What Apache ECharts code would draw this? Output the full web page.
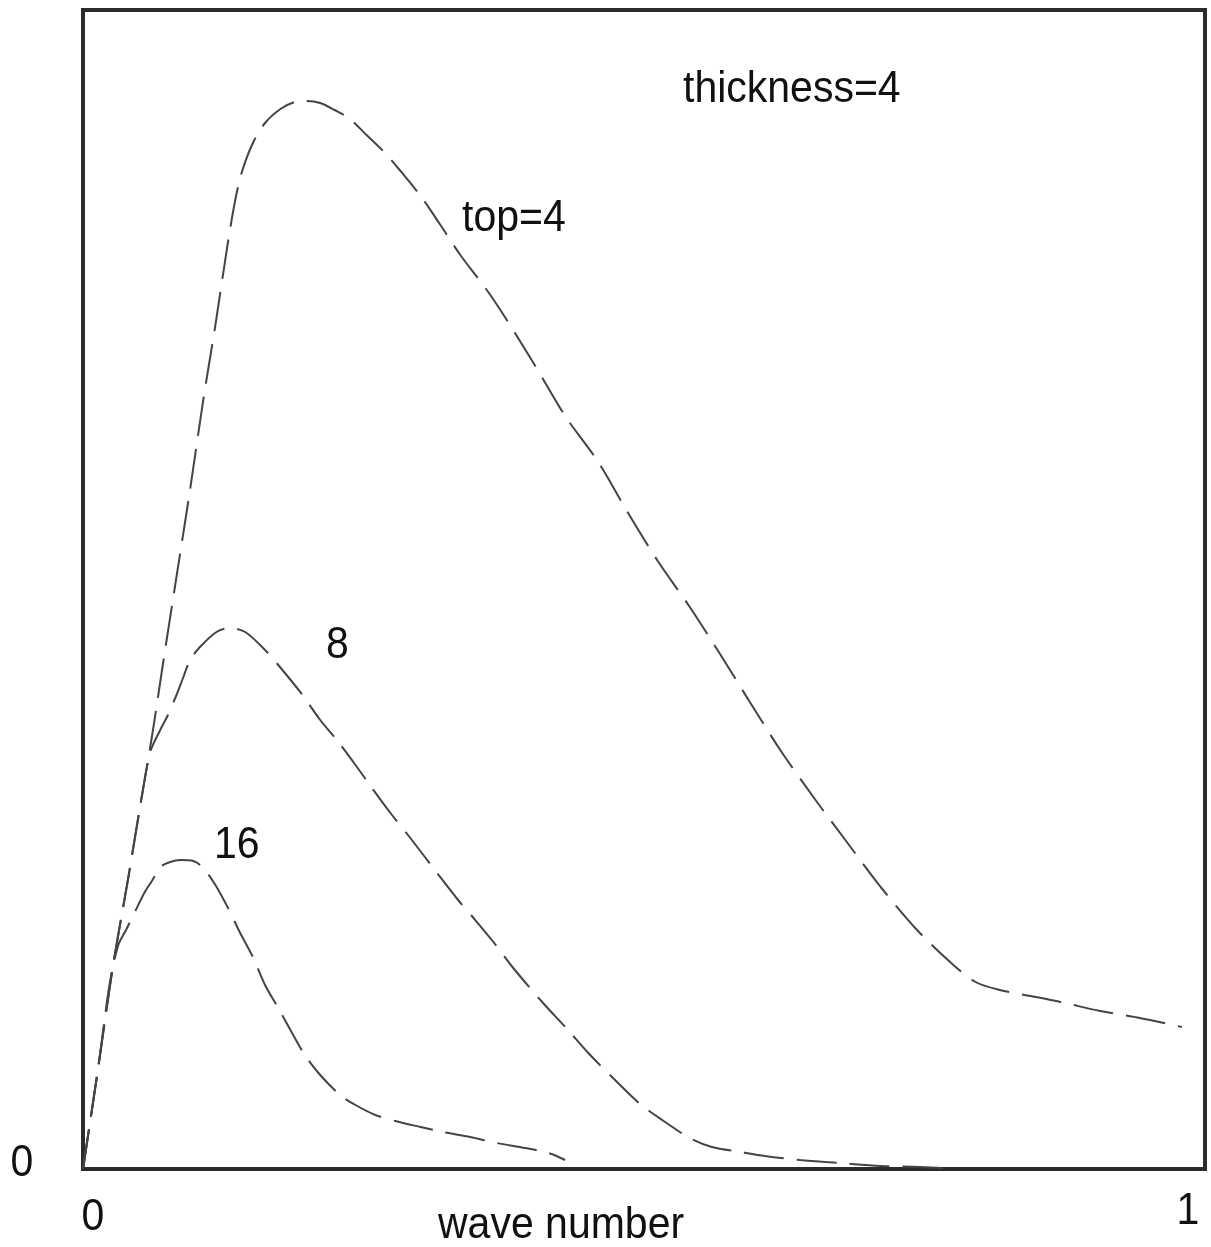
<!DOCTYPE html>
<head>
    <meta charset="utf-8">
    <title>wave number</title>
</head>
<body style="margin:0;background:#fff">
    <div id="main" style="width:1211px;height:1247px"></div>
    <script src="https://cdn.jsdelivr.net/npm/echarts@6/dist/echarts.min.js"></script>
    <script type="text/javascript">

    // curve values: [wave number, amplitude]
    var top4 = [
        [0, 0], [.014, .103], [.027, .202], [.041, .291], [.052, .364], [.063, .436],
        [.073, .509], [.085, .594], [.097, .679], [.109, .769], [.120, .844], [.131, .924],
        [.138, .969], [.144, .997], [.154, 1.026], [.165, 1.046], [.179, 1.060], [.192, 1.067],
        [.203, 1.068], [.215, 1.066], [.228, 1.059], [.242, 1.050], [.257, 1.034], [.272, 1.018],
        [.287, .999], [.306, .973], [.324, .944], [.342, .914], [.366, .879], [.383, .851],
        [.410, .803], [.437, .753], [.467, .707], [.493, .658], [.521, .608], [.550, .562],
        [.578, .514], [.605, .466], [.632, .419], [.662, .372], [.693, .326], [.723, .282],
        [.756, .239], [.786, .207], [.809, .187], [.831, .179], [.859, .173], [.886, .167],
        [.922, .158], [.958, .151], [.996, .142]
    ];
    var top8 = [
        [0, 0], [.014, .103], [.027, .202], [.041, .291], [.052, .364], [.061, .417],
        [.070, .439], [.077, .454], [.084, .472], [.091, .492], [.097, .509], [.106, .522],
        [.121, .537], [.133, .541], [.147, .537], [.165, .519], [.183, .496], [.199, .474],
        [.215, .449], [.230, .429], [.247, .404], [.260, .384], [.278, .357], [.296, .332],
        [.321, .296], [.340, .269], [.354, .251], [.372, .227], [.390, .201], [.417, .166],
        [.438, .141], [.458, .116], [.485, .086], [.505, .065], [.525, .049], [.550, .031],
        [.570, .022], [.596, .017], [.618, .013], [.650, .009], [.686, .006], [.723, .003],
        [.759, .002], [.781, .001]
    ];
    var top16 = [
        [0, 0], [.014, .103], [.024, .184], [.032, .224], [.039, .239], [.047, .257],
        [.056, .277], [.063, .289], [.070, .302], [.079, .307], [.088, .309], [.100, .308],
        [.109, .301], [.120, .284], [.131, .262], [.142, .237], [.154, .212], [.165, .184],
        [.177, .161], [.188, .139], [.201, .114], [.215, .094], [.233, .074], [.247, .064],
        [.265, .054], [.283, .048], [.306, .042], [.326, .037], [.351, .032], [.375, .026],
        [.401, .021], [.422, .016], [.437, .009]
    ];
    var seriesNames = ['top=4', '8', '16'];
    var xTickLabels = ['0', '1'];
    var yTickLabels = ['0'];

    var myChart = echarts.init(document.getElementById('main'));

    var font = '41px "Liberation Sans", Arial, sans-serif';
    // y is the top of the text box
    function label(text, x, y, align) {
        return {
            type: 'text', x: x, y: y, scaleY: 1.07, silent: true,
            style: { text: text, font: font, fill: '#111', align: align || 'left', verticalAlign: 'top' }
        };
    }

    var lineStyle = { color: '#444', width: 2, type: [40, 13] };

    var option = {
        animation: false,
        backgroundColor: '#fff',
        grid: {
            left: 83, right: 6, top: 10, bottom: 78,
            show: true, borderWidth: 4, borderColor: '#2b2b2b', backgroundColor: '#fff'
        },
        xAxis: {
            type: 'value', min: 0, max: 1.017,
            axisLine: { show: false }, axisTick: { show: false },
            axisLabel: { show: false }, splitLine: { show: false }
        },
        yAxis: {
            type: 'value', min: 0, max: 1.159,
            axisLine: { show: false }, axisTick: { show: false },
            axisLabel: { show: false }, splitLine: { show: false }
        },
        series: [
            { name: seriesNames[0], type: 'line', data: top4, showSymbol: false, smooth: 0.3, lineStyle: lineStyle },
            { name: seriesNames[1], type: 'line', data: top8, showSymbol: false, smooth: 0.3, lineStyle: lineStyle },
            { name: seriesNames[2], type: 'line', data: top16, showSymbol: false, smooth: 0.3, lineStyle: lineStyle }
        ],
        graphic: [
            label('thickness=4', 683, 68),
            label(seriesNames[0], 462, 197),
            label(seriesNames[1], 326, 624),
            label(seriesNames[2], 214, 824),
            label(yTickLabels[0], 22, 1142, 'center'),
            label(xTickLabels[0], 93, 1196, 'center'),
            label(xTickLabels[1], 1188, 1190, 'center'),
            label('wave number', 438, 1204)
        ]
    };

    myChart.setOption(option);
    </script>
</body>
